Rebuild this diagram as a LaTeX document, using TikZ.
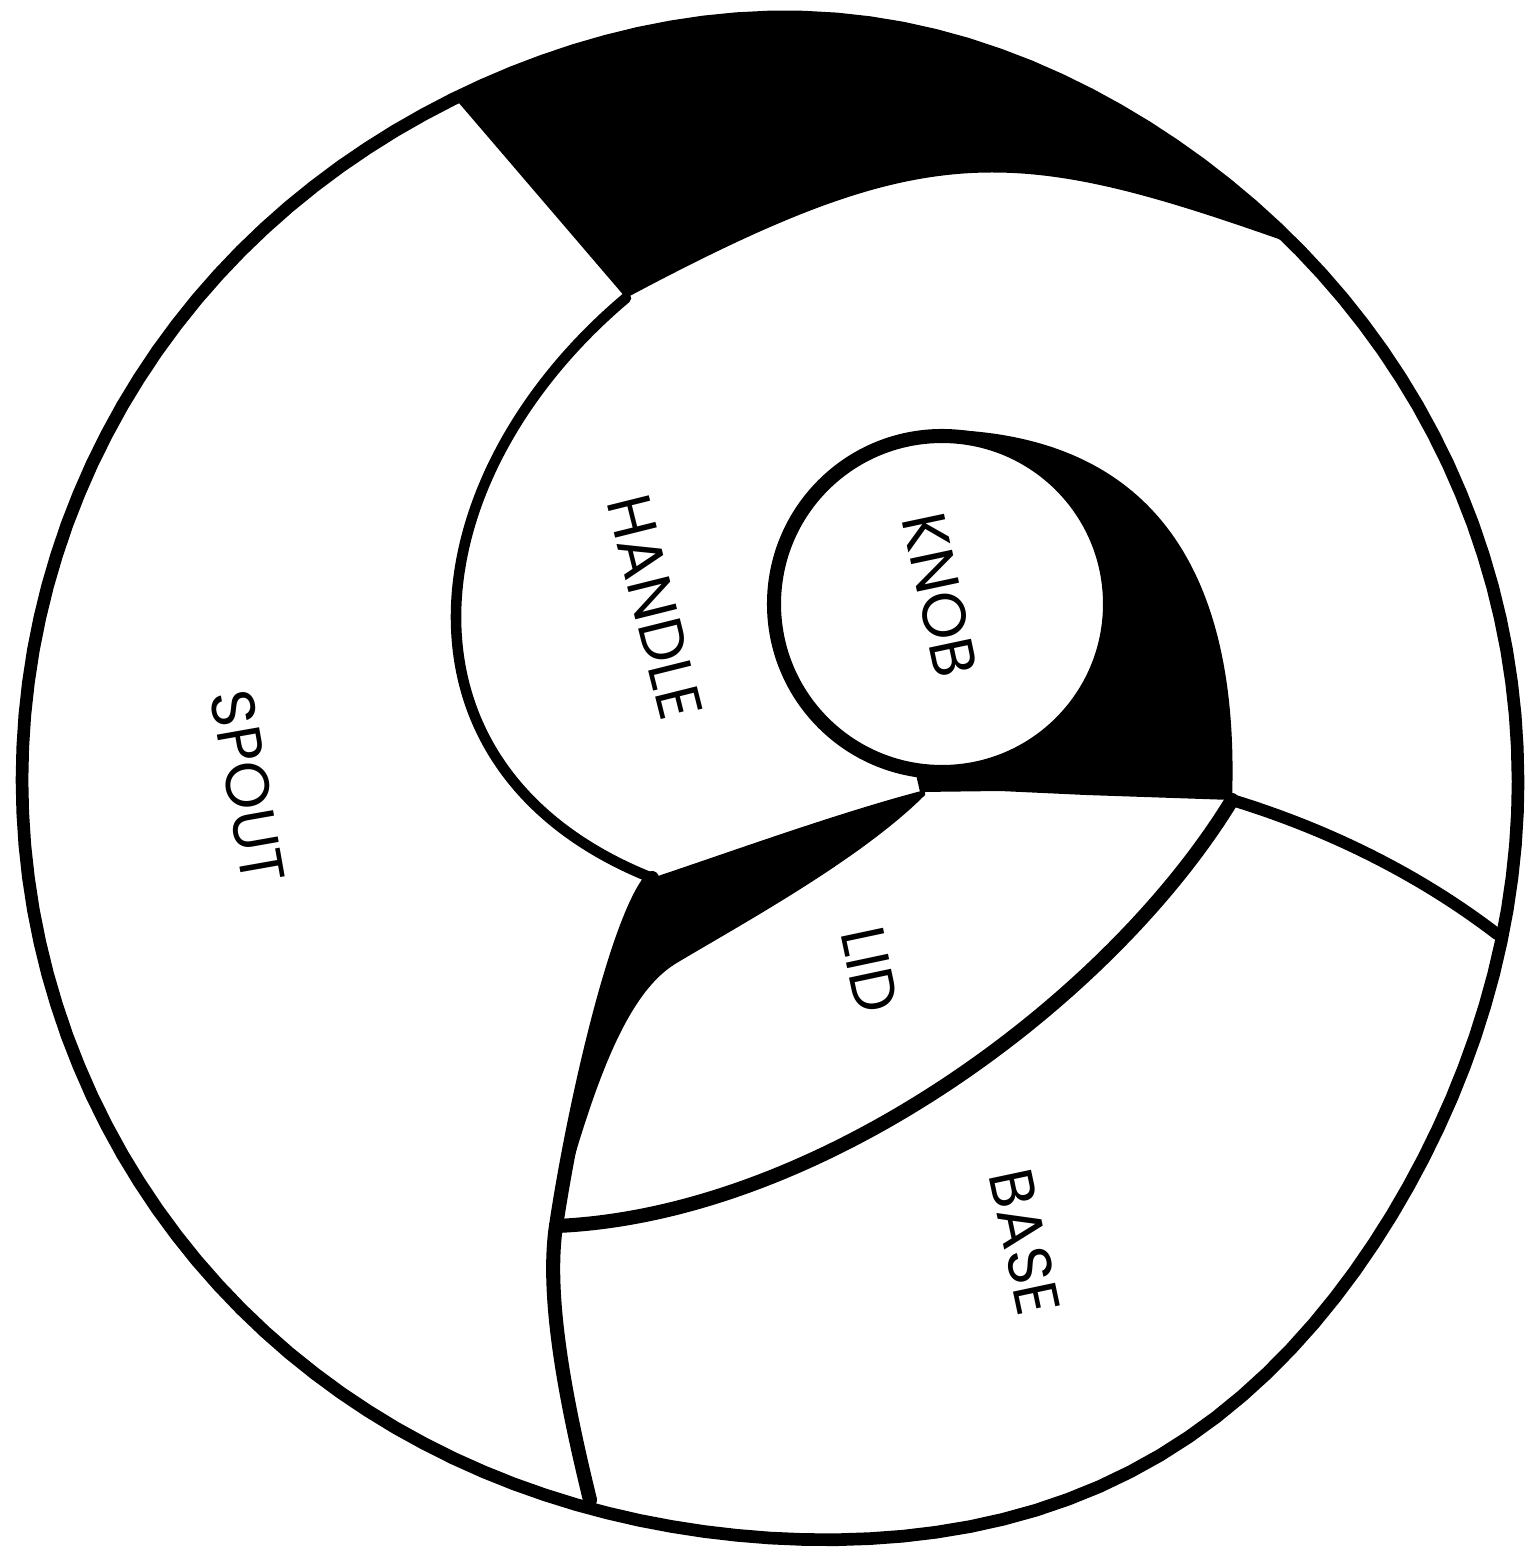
\documentclass[tikz,border=0pt]{standalone}
\usepackage{fontspec}
\setsansfont{Poppins}
\usetikzlibrary{calc}
% radius of the hand-drawn rim, by angle
\pgfmathdeclarefunction{rimr}{1}{%
  \pgfmathparse{748+32*exp(0-((#1-62)/26)*((#1-62)/26))+16*exp(0-((#1-276)/24)*((#1-276)/24))}}

\begin{document}
\begin{tikzpicture}[
  x=0.01cm, y=-0.01cm,
  every node/.style={font=\sffamily\fontsize{17.5}{17.5}\selectfont, inner sep=0pt},
  rim/.style={line width=3.6pt, line join=round},
  seam/.style={line width=3pt, line cap=round, line join=round},
  heavy/.style={line width=4pt, line cap=round, line join=round}
]
  \useasboundingbox (0,0) rectangle (1535,1549);
  % junctions
  \coordinate (j1) at (455,98);
  \coordinate (j2) at (1290,243);
  \coordinate (j3) at (626,298);
  \coordinate (j4) at (1232,800);
  \coordinate (j5) at (1497,934);
  \coordinate (l1) at (652,878);
  \coordinate (l2) at (556,1226);
  \coordinate (j6) at (590,1500);

  \begin{scope}
    \clip plot[domain=0:360, samples=145] ({770+rimr(\x)*cos(\x)}, {780+rimr(\x)*sin(\x)}) -- cycle;
    % black band at the top
    \fill (j3) .. controls (926,138) and (1010,144) .. (j2) -- (1450,40)
      -- (800,-120) -- (357,-16) -- cycle;
    % black crescent beside the knob
    \fill (955,430) .. controls (1160,440) and (1240,580) .. (j4) -- (1086,795)
      -- (1000,791) -- (920,792) -- (915,770) -- (940,620) -- cycle;
    % black wedge on the lid
    \fill (l1) .. controls (730,852) and (840,812) .. (925,790) -- (925,795)
      .. controls (860,860) and (740,925) .. (675,964)
      .. controls (630,992) and (600,1070) .. (572,1165)
      -- (l2) .. controls (574,1106) and (617,918) .. (l1) -- cycle;
  \end{scope}

  % knob
  \draw[heavy, fill=white] (942,604) circle[radius=168];

  % seams
  \draw[seam] (j3) .. controls (410,480) and (380,770) .. (l1);
  \draw[heavy] (l1) .. controls (617,918) and (574,1106) .. (l2)
    .. controls (545,1300) and (568,1410) .. (j6);
  \draw[heavy] (l2) .. controls (820,1215) and (1110,1000) .. (j4);
  \draw[seam, line width=3.4pt] (j4) .. controls (1330,830) and (1420,875) .. (j5);

  % outer rim
  \draw[rim] plot[domain=0:360, samples=145] ({770+rimr(\x)*cos(\x)}, {780+rimr(\x)*sin(\x)}) -- cycle;

  % labels
  \node[rotate=-80] (spout) at (248,787) {SPOUT};
  \node[rotate=-76] (handle) at (655,607) {HANDLE};
  \node[rotate=-78] (knob) at (940,595) {KNOB};
  \node[rotate=-78] (lid) at (870,970) {LID};
  \node[rotate=-78] (base) at (1025,1242) {BASE};
\end{tikzpicture}
\end{document}
